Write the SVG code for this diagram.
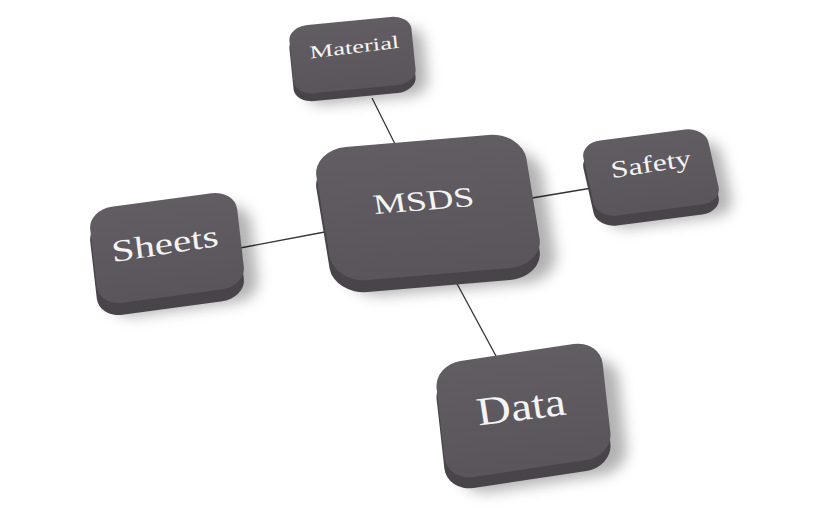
<svg xmlns="http://www.w3.org/2000/svg" xmlns:xlink="http://www.w3.org/1999/xlink" width="825" height="530" viewBox="0 0 825 530">
<style>
.top{fill:url(#topg)}
.side{fill:#48444a}
.shadow{fill:#000;opacity:0.30}
.lbl{font-family:"Liberation Serif","Times New Roman",serif;fill:#f4f4f4;text-anchor:middle}
.conn{stroke:#333;stroke-width:1.3;fill:none}
</style>
<defs>
<linearGradient id="topg" x1="0" y1="0" x2="0" y2="1">
<stop offset="0" stop-color="#615d62"/>
<stop offset="1" stop-color="#59555a"/>
</linearGradient>
<rect id="tile" x="0" y="0" width="100" height="100" rx="16" ry="20"/>
<filter id="blur" x="-30%" y="-30%" width="160%" height="160%"><feGaussianBlur stdDeviation="7"/></filter>
</defs>
<rect width="825" height="530" fill="#fff"/>
<g id="connectors">
<line class="conn" x1="372" y1="98" x2="396" y2="146"/>
<line class="conn" x1="520" y1="200" x2="592" y2="188"/>
<line class="conn" x1="240" y1="248" x2="330" y2="231"/>
<line class="conn" x1="455" y1="280" x2="496" y2="356"/>
</g>
<g id="node-material">
<g filter="url(#blur)"><use xlink:href="#tile" class="shadow" transform="translate(12,11) matrix(1.22,-0.12,0.07,0.68,288,27)"/></g>
<use xlink:href="#tile" class="side" transform="translate(0,8) matrix(1.22,-0.12,0.07,0.68,288,27)"/>
<use xlink:href="#tile" class="top" transform="matrix(1.22,-0.12,0.07,0.68,288,27)"/>
<text class="lbl" font-size="18" textLength="90" lengthAdjust="spacingAndGlyphs" transform="matrix(0.993,-0.12,0.1,0.99,355,53)">Material</text>
</g>
<g id="node-msds">
<g filter="url(#blur)"><use xlink:href="#tile" class="shadow" transform="translate(16,15) matrix(2.10,-0.18,0.22,1.33,312,150)"/></g>
<use xlink:href="#tile" class="side" transform="translate(0,12) matrix(2.10,-0.18,0.22,1.33,312,150)"/>
<use xlink:href="#tile" class="top" transform="matrix(2.10,-0.18,0.22,1.33,312,150)"/>
<text class="lbl" font-size="28" textLength="101" lengthAdjust="spacingAndGlyphs" transform="matrix(0.997,-0.08,0.16,0.99,425,210)">MSDS</text>
</g>
<g id="node-safety">
<g filter="url(#blur)"><use xlink:href="#tile" class="shadow" transform="translate(13,12) matrix(1.25,-0.16,0.17,0.75,580,143)"/></g>
<use xlink:href="#tile" class="side" transform="translate(0,10) matrix(1.25,-0.16,0.17,0.75,580,143)"/>
<use xlink:href="#tile" class="top" transform="matrix(1.25,-0.16,0.17,0.75,580,143)"/>
<text class="lbl" font-size="24" textLength="81" lengthAdjust="spacingAndGlyphs" transform="matrix(0.988,-0.155,0.15,0.99,652,172)">Safety</text>
</g>
<g id="node-sheets">
<g filter="url(#blur)"><use xlink:href="#tile" class="shadow" transform="translate(14,13) matrix(1.47,-0.20,0.11,0.96,88,210)"/></g>
<use xlink:href="#tile" class="side" transform="translate(0,12) matrix(1.47,-0.20,0.11,0.96,88,210)"/>
<use xlink:href="#tile" class="top" transform="matrix(1.47,-0.20,0.11,0.96,88,210)"/>
<text class="lbl" font-size="31" textLength="108" lengthAdjust="spacingAndGlyphs" transform="matrix(0.988,-0.155,0.12,0.99,166,254)">Sheets</text>
</g>
<g id="node-data">
<g filter="url(#blur)"><use xlink:href="#tile" class="shadow" transform="translate(16,15) matrix(1.66,-0.25,0.13,1.16,434,365)"/></g>
<use xlink:href="#tile" class="side" transform="translate(0,11) matrix(1.66,-0.25,0.13,1.16,434,365)"/>
<use xlink:href="#tile" class="top" transform="matrix(1.66,-0.25,0.13,1.16,434,365)"/>
<text class="lbl" font-size="40" textLength="89" lengthAdjust="spacingAndGlyphs" transform="matrix(0.992,-0.125,0.15,0.99,523,420)">Data</text>
</g>
</svg>
